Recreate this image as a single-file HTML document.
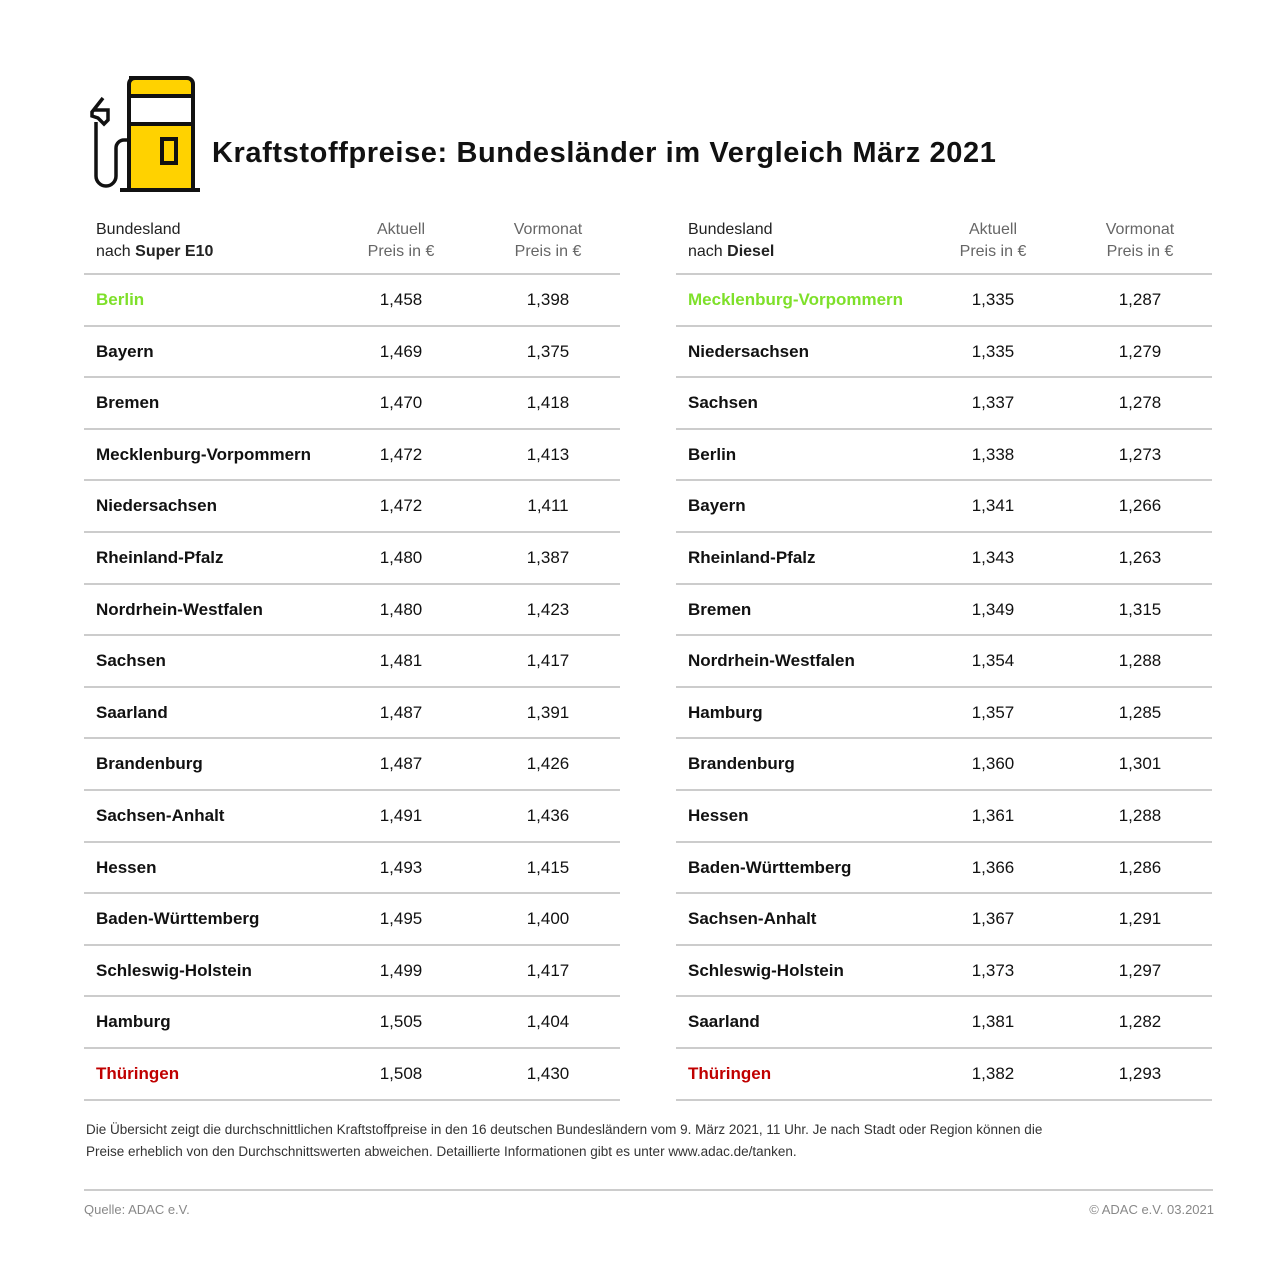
<!DOCTYPE html>
<html><head><meta charset="utf-8"><style>
body{margin:0;background:#fff;font-family:"Liberation Sans",sans-serif;}
.page{position:relative;width:1280px;height:1272px;overflow:hidden;}
.title{position:absolute;left:212px;top:137px;font-size:29px;letter-spacing:0.6px;font-weight:bold;color:#111;white-space:nowrap;}
.tbl{position:absolute;top:216px;width:536px;}
.hd{position:relative;height:57px;border-bottom:2px solid #ccc;font-size:16px;line-height:22px;color:#222;}
.hd .c1{position:absolute;left:12px;top:3px;}
.hd .c2,.hd .c3{position:absolute;top:3px;width:140px;text-align:center;color:#666;}
.row{position:relative;height:49.6px;border-bottom:2px solid #ccc;font-size:17px;color:#111;}
.row span{position:absolute;top:15px;}
.row .n{left:12px;font-weight:bold;}
.row .a,.row .b{width:140px;text-align:center;}
.c2,.a{left:247px;}
.c3,.b{left:394px;}
.g{color:#7ee02a;}
.r{color:#c00000;}
.note{position:absolute;left:86px;top:1119px;font-size:13.5px;line-height:22px;color:#333;white-space:nowrap;}
.line{position:absolute;left:84px;top:1189px;width:1129px;height:2px;background:#ccc;}
.src{position:absolute;top:1202px;font-size:13px;color:#888;}
</style></head><body><div class="page">
<svg style="position:absolute;left:84px;top:72px" width="120" height="122" viewBox="0 0 120 122">
<path d="M45 6 h58 a6 6 0 0 1 6 6 v106 h-64 v-106 a6 6 0 0 1 6-6z" fill="#ffd200" stroke="#111" stroke-width="4"/>
<rect x="45" y="24" width="64" height="28" fill="#fff" stroke="#111" stroke-width="4"/>
<rect x="78" y="67" width="14" height="24" fill="none" stroke="#111" stroke-width="4"/>
<line x1="36" y1="118" x2="116" y2="118" stroke="#111" stroke-width="4"/>
<path d="M19 26 L8 40 L8 44 L14 46 L20 52 L24 48 L24 38 L10 38" fill="none" stroke="#111" stroke-width="3.5"/>
<path d="M12 50 v54 a10 10 0 0 0 20 0 v-28 a8 8 0 0 1 8-8 h5" fill="none" stroke="#111" stroke-width="3.5"/>
</svg>
<div class="title">Kraftstoffpreise: Bundesländer im Vergleich März 2021</div>

<div class="tbl" style="left:84px">
<div class="hd"><span class="c1">Bundesland<br>nach <b>Super E10</b></span><span class="c2">Aktuell<br>Preis in €</span><span class="c3">Vormonat<br>Preis in €</span></div>
<div class="row"><span class="n g">Berlin</span><span class="a">1,458</span><span class="b">1,398</span></div>
<div class="row"><span class="n">Bayern</span><span class="a">1,469</span><span class="b">1,375</span></div>
<div class="row"><span class="n">Bremen</span><span class="a">1,470</span><span class="b">1,418</span></div>
<div class="row"><span class="n">Mecklenburg-Vorpommern</span><span class="a">1,472</span><span class="b">1,413</span></div>
<div class="row"><span class="n">Niedersachsen</span><span class="a">1,472</span><span class="b">1,411</span></div>
<div class="row"><span class="n">Rheinland-Pfalz</span><span class="a">1,480</span><span class="b">1,387</span></div>
<div class="row"><span class="n">Nordrhein-Westfalen</span><span class="a">1,480</span><span class="b">1,423</span></div>
<div class="row"><span class="n">Sachsen</span><span class="a">1,481</span><span class="b">1,417</span></div>
<div class="row"><span class="n">Saarland</span><span class="a">1,487</span><span class="b">1,391</span></div>
<div class="row"><span class="n">Brandenburg</span><span class="a">1,487</span><span class="b">1,426</span></div>
<div class="row"><span class="n">Sachsen-Anhalt</span><span class="a">1,491</span><span class="b">1,436</span></div>
<div class="row"><span class="n">Hessen</span><span class="a">1,493</span><span class="b">1,415</span></div>
<div class="row"><span class="n">Baden-Württemberg</span><span class="a">1,495</span><span class="b">1,400</span></div>
<div class="row"><span class="n">Schleswig-Holstein</span><span class="a">1,499</span><span class="b">1,417</span></div>
<div class="row"><span class="n">Hamburg</span><span class="a">1,505</span><span class="b">1,404</span></div>
<div class="row"><span class="n r">Thüringen</span><span class="a">1,508</span><span class="b">1,430</span></div>
</div>

<div class="tbl" style="left:676px">
<div class="hd"><span class="c1">Bundesland<br>nach <b>Diesel</b></span><span class="c2">Aktuell<br>Preis in €</span><span class="c3">Vormonat<br>Preis in €</span></div>
<div class="row"><span class="n g">Mecklenburg-Vorpommern</span><span class="a">1,335</span><span class="b">1,287</span></div>
<div class="row"><span class="n">Niedersachsen</span><span class="a">1,335</span><span class="b">1,279</span></div>
<div class="row"><span class="n">Sachsen</span><span class="a">1,337</span><span class="b">1,278</span></div>
<div class="row"><span class="n">Berlin</span><span class="a">1,338</span><span class="b">1,273</span></div>
<div class="row"><span class="n">Bayern</span><span class="a">1,341</span><span class="b">1,266</span></div>
<div class="row"><span class="n">Rheinland-Pfalz</span><span class="a">1,343</span><span class="b">1,263</span></div>
<div class="row"><span class="n">Bremen</span><span class="a">1,349</span><span class="b">1,315</span></div>
<div class="row"><span class="n">Nordrhein-Westfalen</span><span class="a">1,354</span><span class="b">1,288</span></div>
<div class="row"><span class="n">Hamburg</span><span class="a">1,357</span><span class="b">1,285</span></div>
<div class="row"><span class="n">Brandenburg</span><span class="a">1,360</span><span class="b">1,301</span></div>
<div class="row"><span class="n">Hessen</span><span class="a">1,361</span><span class="b">1,288</span></div>
<div class="row"><span class="n">Baden-Württemberg</span><span class="a">1,366</span><span class="b">1,286</span></div>
<div class="row"><span class="n">Sachsen-Anhalt</span><span class="a">1,367</span><span class="b">1,291</span></div>
<div class="row"><span class="n">Schleswig-Holstein</span><span class="a">1,373</span><span class="b">1,297</span></div>
<div class="row"><span class="n">Saarland</span><span class="a">1,381</span><span class="b">1,282</span></div>
<div class="row"><span class="n r">Thüringen</span><span class="a">1,382</span><span class="b">1,293</span></div>
</div>

<div class="note">Die Übersicht zeigt die durchschnittlichen Kraftstoffpreise in den 16 deutschen Bundesländern vom 9. März 2021, 11 Uhr. Je nach Stadt oder Region können die<br>Preise erheblich von den Durchschnittswerten abweichen. Detaillierte Informationen gibt es unter www.adac.de/tanken.</div>
<div class="line"></div>
<div class="src" style="left:84px">Quelle: ADAC e.V.</div>
<div class="src" style="right:66px">© ADAC e.V. 03.2021</div>
</div></body></html>
